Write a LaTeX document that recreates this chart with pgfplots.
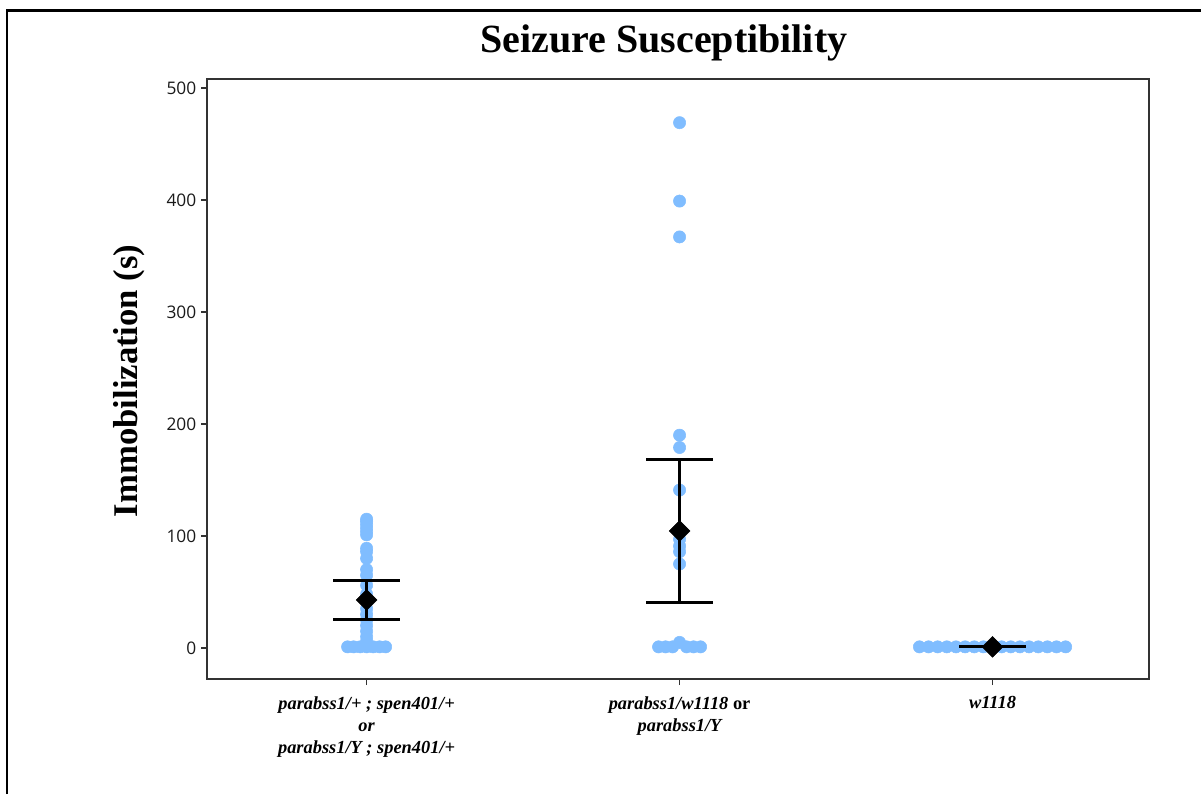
\documentclass[border=0pt]{standalone}
\usepackage{fontspec}
\setmainfont{Liberation Serif}
\newfontfamily\tickfont{Open Sans}
\usepackage{pgfplots}
\pgfplotsset{compat=1.18}
\definecolor{dotblue}{HTML}{80BDFF}

\begin{document}
\begin{tikzpicture}
  \useasboundingbox (0,0) rectangle (900.75pt,595.5pt);
  % frame of the original figure (only left and top edges visible)
  \draw[line width=2pt] (5.25pt,0) -- (5.25pt,587.5pt) -- (900.75pt,587.5pt);
  \begin{axis}[
    clip marker paths=true, % keep drawing order: dots, then means on top
    at={(155.25pt,86.25pt)}, anchor=south west,
    scale only axis, width=706.5pt, height=450pt,
    xmin=-0.51, xmax=2.50, ymin=-27.7, ymax=508,
    xtick={0,1,2},
    xticklabels={{parabss1/+ ; spen401/+\\or\\parabss1/Y ; spen401/+},
                 {parabss1/w1118 \textup{or}\\parabss1/Y},
                 {w1118}},
    xticklabel style={font=\fontsize{13.8}{16.5}\selectfont\bfseries\itshape,
                      align=center, text=black, yshift=-5pt},
    ytick={0,100,200,300,400,500},
    yticklabel style={font=\tickfont\fontsize{13}{15}\selectfont, text=black!90},
    /pgf/number format/assume math mode=true,
    tick align=outside, xtick pos=bottom, ytick pos=left,
    major tick length=4.5pt,
    tick style={black!80, line width=1pt},
    axis line style={black!80, line width=1.3pt},
    ylabel={Immobilization (s)},
    ylabel style={font=\fontsize{26}{30}\selectfont\bfseries,
                  at={(axis description cs:-0.083,0.497)}, anchor=center},
    title={Seizure Susceptibility},
    title style={font=\fontsize{30}{36}\selectfont\bfseries,
                 at={(axis description cs:0.485,1)}, anchor=base, yshift=13.5pt},
  ]
    % individual flies, swarm offsets in category units
    \addplot[only marks, color=dotblue, mark=*, mark size=4.6pt,
             mark options={draw=dotblue, fill=dotblue}] coordinates {
      (0,115) (0,113) (0,110) (0,107) (0,104) (0,101) (0,89) (0,86) (0,80)
      (0,70) (0,65) (0,56) (0,48) (0,41) (0,35) (0,30) (0,25) (0,20) (0,15)
      (0,10) (0,6) (0,3)
      (-0.0607,1) (-0.0415,1) (-0.0208,1) (0,1) (0.0208,1) (0.0415,1) (0.0607,1)
    };
    \addplot[only marks, color=dotblue, mark=*, mark size=4.6pt,
             mark options={draw=dotblue, fill=dotblue}] coordinates {
      (1,469) (1,399) (1,367) (1,190) (1,179) (1,141) (1,97) (1,91) (1,86) (1,75)
      (0.9329,1) (0.9553,1) (0.9776,1) (1,5) (1.0224,1) (1.0447,1) (1.0671,1)
    };
    \addplot[only marks, color=dotblue, mark=*, mark size=4.6pt,
             mark options={draw=dotblue, fill=dotblue}] coordinates {
      (1.7664,1) (1.7956,1) (1.8248,1) (1.8540,1) (1.8832,1) (1.9124,1)
      (1.9416,1) (1.9708,1) (2,1) (2.0292,1) (2.0584,1) (2.0876,1)
      (2.1168,1) (2.1460,1) (2.1752,1) (2.2044,1) (2.2336,1)
    };
    % w1118: zero-width interval, caps collapse into one bar
    \addplot[black, line width=2.4pt] coordinates {(1.893,1) (2.107,1)};
    % mean with error bars
    \addplot[only marks, color=black, mark=square*, mark size=5.5pt,
             mark options={rotate=45, fill=black, draw=black},
             error bars/.cd, y dir=both, y explicit,
             error bar style={line width=2.4pt, black},
             error mark options={rotate=90, black, line width=2.4pt, mark size=25pt}]
      coordinates {(0,42.9) +- (0,17.2) (1,104.5) +- (0,64) (2,1) +- (0,0)};
  \end{axis}
\end{tikzpicture}
\end{document}
